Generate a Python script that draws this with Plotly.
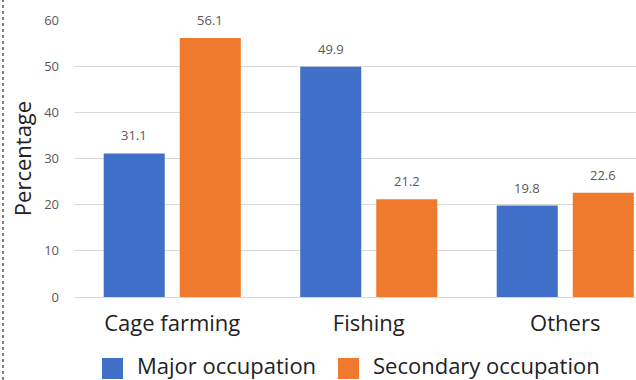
import plotly.graph_objects as go

# Occupation shares (%) by activity
categories = ["Cage farming", "Fishing", "Others"]
major_occupation = [31.1, 49.9, 19.8]
secondary_occupation = [56.1, 21.2, 22.6]
y_ticks = [0, 10, 20, 30, 40, 50, 60]
series_names = ["Major occupation", "Secondary occupation"]

BLUE = "#4170c9"
ORANGE = "#ef7a2e"
LABEL_GRAY = "#595959"
TEXT = "#222222"
FONT = "Open Sans"

W, H = 636, 380
ML, MR, MT, MB = 74, 0, 20, 83
PW, PH = W - ML - MR, H - MT - MB


def px_x(px):
    """Pixel column -> paper x."""
    return (px - ML) / PW


def px_y(py):
    """Pixel row -> paper y."""
    return (H - MB - py) / PH


fig = go.Figure()
fig.add_trace(go.Bar(x=categories, y=major_occupation, name=series_names[0],
                     marker=dict(color=BLUE, line=dict(width=0)), showlegend=False))
fig.add_trace(go.Bar(x=categories, y=secondary_occupation, name=series_names[1],
                     marker=dict(color=ORANGE, line=dict(width=0)), showlegend=False))

# Value labels above each bar
for series, shift in [(major_occupation, -38), (secondary_occupation, 38)]:
    for cat, val in zip(categories, series):
        fig.add_annotation(x=cat, y=val, xref="x", yref="y", text=f"{val:.1f}",
                           showarrow=False, yanchor="bottom", xshift=shift, yshift=7,
                           font=dict(family=FONT, size=13, color=LABEL_GRAY))

# Legend row under the category labels: square key + name
for name, color, x0 in [(series_names[0], BLUE, 102), (series_names[1], ORANGE, 338)]:
    fig.add_shape(type="rect", xref="paper", yref="paper",
                  x0=px_x(x0), x1=px_x(x0 + 21), y0=px_y(379), y1=px_y(358),
                  fillcolor=color, line=dict(width=0))
    fig.add_annotation(xref="paper", yref="paper", x=px_x(x0 + 33), y=px_y(364.5),
                       xanchor="left", yanchor="middle", showarrow=False, text=name,
                       font=dict(family=FONT, size=22, color=TEXT))

# Dotted rule along the left edge
fig.add_shape(type="line", xref="paper", yref="paper", x0=px_x(3), x1=px_x(3),
              y0=px_y(H), y1=px_y(0), line=dict(color="#555555", width=1.5, dash="dot"))

fig.update_layout(
    width=W, height=H,
    margin=dict(l=ML, r=MR, t=MT, b=MB, autoexpand=False),
    paper_bgcolor="white", plot_bgcolor="white",
    barmode="group", bargap=0.226, bargroupgap=0.197,
    font=dict(family=FONT, color=TEXT),
    showlegend=False,
)
fig.update_xaxes(range=[-0.5, 2.36], showgrid=False, showline=False, ticks="",
                 tickfont=dict(family=FONT, size=22, color=TEXT),
                 ticklabelstandoff=11)
fig.update_yaxes(range=[0, 60], tickvals=y_ticks, showgrid=True, gridcolor="#d9d9d9",
                 gridwidth=1, zeroline=True, zerolinecolor="#d9d9d9", zerolinewidth=1,
                 showline=False, ticks="",
                 tickfont=dict(family=FONT, size=13, color=LABEL_GRAY),
                 ticklabelstandoff=14,
                 title=dict(text="Percentage", standoff=6,
                            font=dict(family=FONT, size=22, color=TEXT)))

fig.write_html("out.html")
